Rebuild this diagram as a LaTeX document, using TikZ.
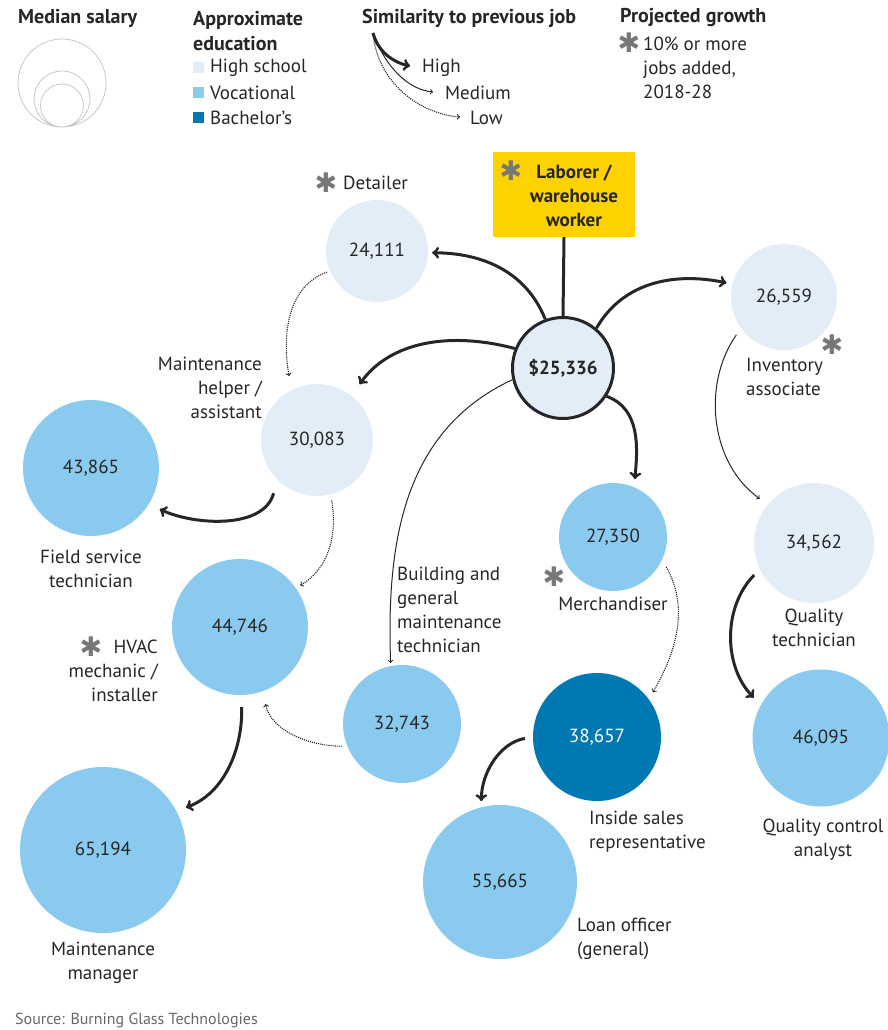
\documentclass[tikz,border=0pt]{standalone}
\usepackage{fontspec}
\setmainfont{PT Sans}
\newfontfamily\symfont{DejaVu Sans}
\definecolor{hsblue}{HTML}{E2EDF8}
\definecolor{vocblue}{HTML}{89CAEE}
\definecolor{bablue}{HTML}{0078B1}
\definecolor{wsjyellow}{HTML}{FDD200}
\definecolor{inkc}{HTML}{262626}
\definecolor{stargray}{HTML}{777777}

\begin{document}
\begin{tikzpicture}[x=1pt,y=1pt,
  every node/.style={font=\fontsize{19}{24}\selectfont,text=inkc,inner sep=0pt},
  hdr/.style={font=\fontsize{20}{25}\selectfont\bfseries},
  growmark/.style={text=stargray,font=\fontsize{27}{27}\selectfont\symfont},
  hs/.style={circle,fill=hsblue,minimum size=#1},
  voc/.style={circle,fill=vocblue,minimum size=#1},
  bach/.style={circle,fill=bablue,text=white,minimum size=#1},
  high/.style={->,line width=3pt,inkc},
  med/.style={->,line width=1pt,inkc},
  low/.style={->,densely dotted,line width=1.1pt,inkc}]
\useasboundingbox (0,0) rectangle (888,-1030);

% legend
\node[hdr,anchor=west] (medlbl) at (18,-18) {Median salary};
\draw[black!22,line width=.8pt] (62,-83) circle (44) (62,-99) circle (28) (62,-105.5) circle (21.5);
\node[hdr,anchor=west,align=left] (edulbl) at (193,-31) {Approximate\\education};
\node[fill=hsblue,minimum size=11] (hskey) at (198.5,-68) {};
\node[fill=vocblue,minimum size=11] (vockey) at (198.5,-93) {};
\node[fill=bablue,minimum size=11] (bakey) at (198.5,-118) {};
\node[anchor=west] (hslbl) at (210,-68) {High school};
\node[anchor=west] (voclbl) at (210,-93) {Vocational};
\node[anchor=west] (balbl) at (210,-118) {Bachelor’s};
\node[hdr,anchor=west] (simlbl) at (362,-18) {Similarity to previous job};
\coordinate (simroot) at (373,-33);
\node[anchor=west] (high) at (422,-68) {High};
\node[anchor=west] (medium) at (445,-93) {Medium};
\node[anchor=west] (lowlbl) at (470,-118) {Low};
\draw[high,shorten >=12] (simroot) to[out=-75,in=170] (high.west);
\draw[med,shorten >=12] (simroot) to[out=-70,in=175] (medium.west);
\draw[low,shorten >=10] (simroot) to[out=-85,in=175] (lowlbl.west);
\node[hdr,anchor=west] (growlbl) at (620,-18) {Projected growth};
\node[growmark] (gkey) at (629,-43) {✱};
\node[anchor=west,align=left] (growtxt) at (643,-68) {10\% or more\\jobs added,\\2018-28};

% jobs
\node[fill=wsjyellow,minimum width=142,minimum height=85] (labor) at (564,-194.5) {};
\node[hdr,font=\fontsize{19}{24}\selectfont\bfseries,align=center] (labortxt) at (574,-196) {Laborer /\\warehouse\\worker};
\node[growmark] (glab) at (511,-171) {✱};
\node[hs=101,draw=inkc,line width=3pt,hdr,font=\fontsize{19}{24}\selectfont\bfseries] (base) at (563,-368) {\$25,336};
\node[hs=102] (detailer) at (377,-251) {24,111};
\node[hs=106] (invent) at (784,-297) {26,559};
\node[hs=112] (helper) at (317,-440) {30,083};
\node[voc=136] (field) at (91,-468) {43,865};
\node[voc=136] (hvac) at (240,-627) {44,746};
\node[voc=118] (build) at (402,-724) {32,743};
\node[voc=108] (merch) at (613,-537) {27,350};
\node[hs=120] (qtech) at (814,-543) {34,562};
\node[bach=128] (isr) at (597,-737) {38,657};
\node[voc=137] (qca) at (821,-738) {46,095};
\node[voc=166] (mgr) at (103,-850) {65,194};
\node[voc=154] (loan) at (500,-882) {55,665};

% labels
\node[anchor=west] (detlbl) at (343,-183) {Detailer};
\node[growmark] (gdet) at (326,-183) {✱};
\node[anchor=west,align=left] (invlbl) at (746,-377) {Inventory\\associate};
\node[growmark] (ginv) at (832,-345) {✱};
\node[anchor=east,align=right] (helplbl) at (262,-388) {Maintenance\\helper /\\assistant};
\node[align=center] (fieldlbl) at (91,-569) {Field service\\technician};
\node[anchor=east,align=right] (hvaclbl) at (158,-671) {HVAC\\mechanic /\\installer};
\node[growmark] (ghvac) at (91,-647) {✱};
\node[anchor=west,align=left] (bldlbl) at (397,-610) {Building and\\general\\maintenance\\technician};
\node (merchlbl) at (613,-604) {Merchandiser};
\node[growmark] (gmerch) at (554,-577) {✱};
\node[align=center] (qtlbl) at (814,-628) {Quality\\technician};
\node[anchor=west,align=left] (isrlbl) at (589,-832) {Inside sales\\representative};
\node[align=center] (qcalbl) at (823,-840) {Quality control\\analyst};
\node[align=center] (mgrlbl) at (103,-963) {Maintenance\\manager};
\node[anchor=west,align=left] (loanlbl) at (577,-939) {Loan officer\\(general)};
\node[anchor=west,text=black!60,font=\fontsize{16}{18}\selectfont] (source) at (15,-1020) {Source: Burning Glass Technologies};

% moves
\draw[high,-] (labor.south) -- (base.north);
\draw[high,shorten >=4] (base.110) to[out=112,in=0] (detailer.-2);
\draw[high,shorten >=14] (base.158) to[out=165,in=55] (helper.52);
\draw[high,shorten >=6] (base.50) to[out=60,in=168] (invent.166);
\draw[high,shorten >=8] (base.-33) to[out=-20,in=85] (merch.67);
\draw[med,shorten >=3] (base.193) to[out=205,in=92] (build.101);
\draw[low,shorten <=3,shorten >=14] (detailer.203) to[out=200,in=100] (helper.117);
\draw[high,shorten <=14,shorten >=12] (helper.225) to[out=255,in=-25] (field.-32);
\draw[low,shorten <=6,shorten >=5] (helper.-76) to[out=-80,in=30] (hvac.35);
\draw[high,shorten <=12,shorten >=10] (hvac.-89) to[out=-88,in=20] (mgr.28);
\draw[low,shorten <=5,shorten >=13] (build.202) to[out=180,in=-80] (hvac.-70);
\draw[med,shorten <=8,shorten >=10] (invent.216) to[out=235,in=145] (qtech.140);
\draw[low,shorten <=8,shorten >=8] (merch.-25) to[out=-60,in=60] (isr.36);
\draw[high,shorten <=8,shorten >=10] (qtech.206) to[out=225,in=135] (qca.151);
\draw[high,shorten <=8,shorten >=6] (isr.180) to[out=190,in=90] (loan.104);

\end{tikzpicture}
\end{document}
